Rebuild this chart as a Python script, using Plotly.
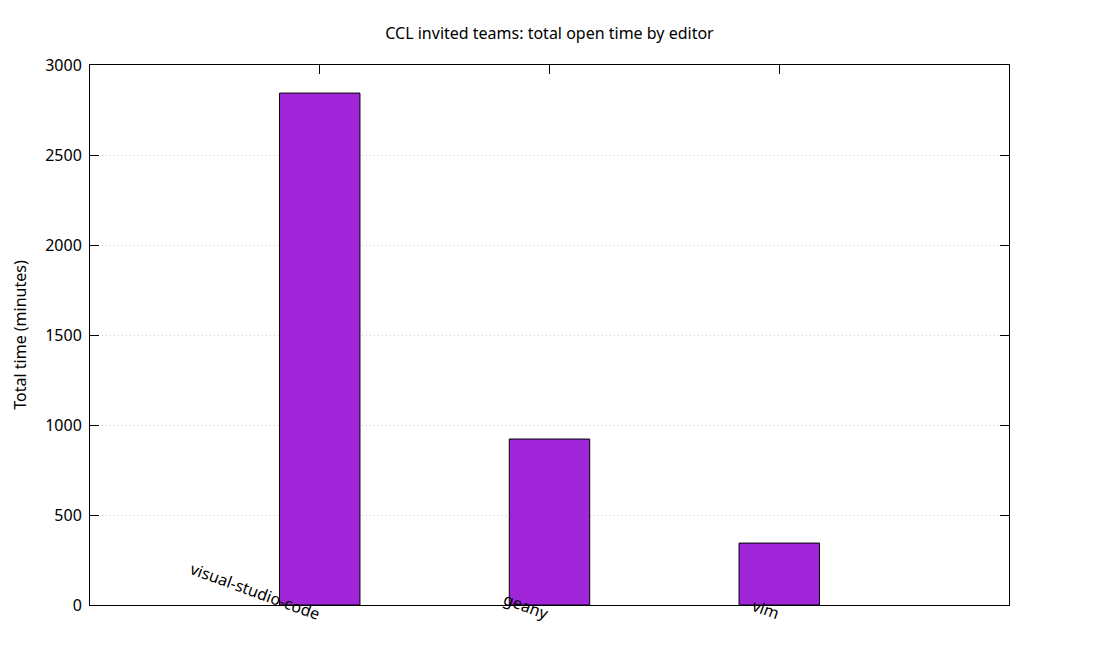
import plotly.graph_objects as go

editors = ['visual-studio-code', 'geany', 'vim']
minutes = [2844, 922, 344]

y_ticks = [0, 500, 1000, 1500, 2000, 2500, 3000]

font = 'Noto Sans'

bars = go.Bar(x=list(range(len(editors))),
              y=minutes,
              width=0.35,
              marker=dict(color='#a226d9', line=dict(color='black', width=1)),
              hoverinfo='y')

# gnuplot style rotated labels: text ends at the tick, slanted down to the right
labels = [dict(x=i, y=0, xref='x', yref='y', text=name, showarrow=False,
               textangle=20, xanchor='right', yanchor='bottom', xshift=5, yshift=-22,
               font=dict(family=font, size=16, color='black'))
          for i, name in enumerate(editors)]

# the page body adds an 8px offset, margins are set to compensate
layout = go.Layout(
    title=dict(text='CCL invited teams: total open time by editor',
               x=0.5, xref='paper', y=1 - 25 / 650, yanchor='middle',
               font=dict(family=font, size=16, color='black')),
    font=dict(family=font, size=16, color='black'),
    width=1100, height=650,
    margin=dict(l=82, r=99, t=57, b=53, autoexpand=False),
    plot_bgcolor='white', paper_bgcolor='white',
    showlegend=False,
    annotations=labels,
    xaxis=dict(range=[-1, 3], tickvals=list(range(len(editors))), showticklabels=False,
               ticks='inside', ticklen=9, tickcolor='black', showline=True, linecolor='black',
               mirror='ticks', showgrid=False, zeroline=False, layer='below traces',
               automargin=False),
    yaxis=dict(range=[0, 3000], tickvals=y_ticks, ticks='inside', ticklen=9, tickcolor='black',
               showline=True, linecolor='black', mirror='ticks', zeroline=False,
               showgrid=True, gridcolor='#cccccc', griddash='1px,3px', gridwidth=1,
               layer='below traces', ticklabelstandoff=4, automargin=False,
               title=dict(text='Total time (minutes)', standoff=14,
                          font=dict(family=font, size=16, color='black'))),
)

fig = go.Figure(data=[bars], layout=layout)
fig.write_html('out.html')
